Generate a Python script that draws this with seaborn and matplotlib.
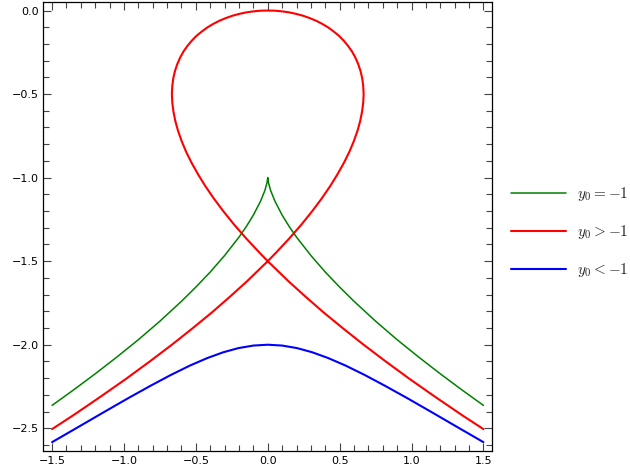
# Solution curves for three initial values y0, drawn as lines through read-off points

import numpy as np
import pandas as pd
import matplotlib
matplotlib.use("Agg")
import matplotlib.pyplot as plt
import seaborn as sns
from matplotlib.ticker import MultipleLocator

# ============================================================
# Data
# ============================================================

# y0 = -1 : cusp at (0, -1)
green_x = [-1.5, -1.35, -1.2, -1.05, -0.9, -0.75, -0.6, -0.5, -0.4, -0.3, -0.2,
           -0.15, -0.1, -0.05, -0.02, -0.005, 0.0,
           0.005, 0.02, 0.05, 0.1, 0.15, 0.2, 0.3, 0.4, 0.5, 0.6, 0.75, 0.9,
           1.05, 1.2, 1.35, 1.5]
green_y = [-2.363, -2.270, -2.174, -2.074, -1.970, -1.859, -1.740, -1.655, -1.565,
           -1.466, -1.356, -1.294, -1.224, -1.141, -1.077, -1.030, -1.0,
           -1.030, -1.077, -1.141, -1.224, -1.294, -1.356, -1.466, -1.565, -1.655,
           -1.740, -1.859, -1.970, -2.074, -2.174, -2.270, -2.363]

# y0 > -1 : one path - lower left, up the right side of the loop,
# over the top, down the left side, through the crossing, lower right
red_x = [-1.500, -1.349, -1.163, -0.987, -0.822, -0.667, -0.522, -0.386, -0.261,
         -0.144, 0.0,
         0.062, 0.153, 0.235, 0.309, 0.375, 0.434, 0.485, 0.530, 0.568, 0.599,
         0.624, 0.643, 0.656, 0.664, 0.667, 0.664, 0.657, 0.645, 0.629, 0.609,
         0.586, 0.558, 0.528, 0.495, 0.458, 0.420, 0.379, 0.336, 0.291, 0.245,
         0.197, 0.149, 0.100, 0.050, 0.0,
         -0.050, -0.100, -0.149, -0.197, -0.245, -0.291, -0.336, -0.379, -0.420,
         -0.458, -0.495, -0.528, -0.558, -0.586, -0.609, -0.629, -0.645, -0.657,
         -0.664, -0.667, -0.664, -0.656, -0.643, -0.624, -0.599, -0.568, -0.530,
         -0.485, -0.434, -0.375, -0.309, -0.235, -0.153, -0.062, 0.0,
         0.144, 0.261, 0.386, 0.522, 0.667, 0.822, 0.987, 1.163, 1.349, 1.500]
red_y = [-2.505, -2.420, -2.311, -2.205, -2.101, -2.000, -1.901, -1.805, -1.711,
         -1.620, -1.500,
         -1.445, -1.361, -1.280, -1.201, -1.125, -1.051, -0.980, -0.911, -0.845,
         -0.781, -0.720, -0.661, -0.605, -0.551, -0.500, -0.451, -0.405, -0.361,
         -0.320, -0.281, -0.245, -0.211, -0.180, -0.151, -0.125, -0.101, -0.080,
         -0.061, -0.045, -0.031, -0.020, -0.011, -0.005, -0.001, 0.0,
         -0.001, -0.005, -0.011, -0.020, -0.031, -0.045, -0.061, -0.080, -0.101,
         -0.125, -0.151, -0.180, -0.211, -0.245, -0.281, -0.320, -0.361, -0.405,
         -0.451, -0.500, -0.551, -0.605, -0.661, -0.720, -0.781, -0.845, -0.911,
         -0.980, -1.051, -1.125, -1.201, -1.280, -1.361, -1.445, -1.500,
         -1.620, -1.711, -1.805, -1.901, -2.000, -2.101, -2.205, -2.311, -2.420,
         -2.505]

# y0 < -1 : smooth hump with top at (0, -2)
blue_x = [-1.500, -1.333, -1.143, -0.971, -0.814, -0.672, -0.542, -0.421, -0.309,
          -0.203, -0.100, 0.0, 0.100, 0.203, 0.309, 0.421, 0.542, 0.672, 0.814,
          0.971, 1.143, 1.333, 1.500]
blue_y = [-2.583, -2.500, -2.405, -2.320, -2.245, -2.180, -2.125, -2.080, -2.045,
          -2.020, -2.005, -2.0, -2.005, -2.020, -2.045, -2.080, -2.125, -2.180,
          -2.245, -2.320, -2.405, -2.500, -2.583]

labels = [r"$y_0 = -1$", r"$y_0 > -1$", r"$y_0 < -1$"]
colors = ["#008000", "#ff0000", "#0000ff"]
widths = [1.1, 1.5, 1.5]

# ============================================================
# Plot
# ============================================================

sns.set_style("ticks")
plt.rcParams["mathtext.fontset"] = "cm"
plt.rcParams["font.family"] = ["DejaVu Sans"]

fig = plt.figure(figsize=(6.3, 4.74), dpi=100)
ax = fig.add_axes([0.069, 0.049, 0.712, 0.947])

curves = [(green_x, green_y), (red_x, red_y), (blue_x, blue_y)]

for (cx, cy), lab, col, lw in zip(curves, labels, colors, widths):
    d = pd.DataFrame({"x": cx, "y": cy})
    sns.lineplot(data=d, x="x", y="y", sort=False, estimator=None,
                 color=col, linewidth=lw, label=lab, ax=ax)

ax.margins(0.02)
ax.set_xlabel("")
ax.set_ylabel("")

ax.xaxis.set_major_locator(MultipleLocator(0.5))
ax.xaxis.set_minor_locator(MultipleLocator(0.1))
ax.yaxis.set_major_locator(MultipleLocator(0.5))
ax.yaxis.set_minor_locator(MultipleLocator(0.1))

ax.tick_params(which="both", direction="in", top=True, right=True,
               labelsize=8, width=0.8, color="#444444", labelcolor="black")
ax.tick_params(which="major", length=6)
ax.tick_params(which="minor", length=4)

for s in ax.spines.values():
    s.set_linewidth(0.9)
    s.set_color("black")

ax.legend(loc="center left", bbox_to_anchor=(0.811, 0.51),
          bbox_transform=fig.transFigure, frameon=False, fontsize=11,
          handlelength=3.6, handletextpad=0.7, labelspacing=1.3,
          borderpad=0, borderaxespad=0)

fig.savefig("out.png", dpi=100)
